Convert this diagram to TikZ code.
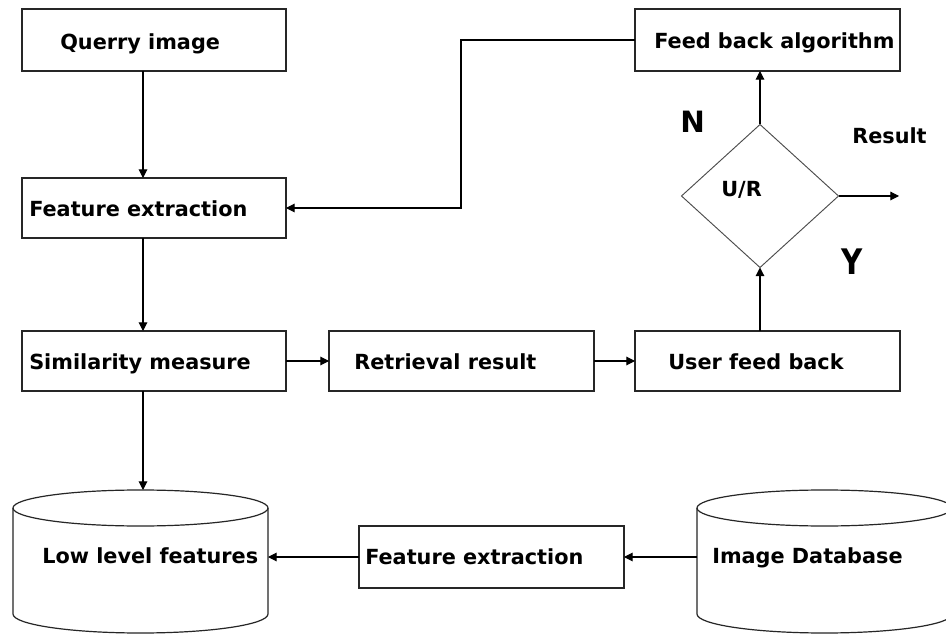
\documentclass[tikz,border=0pt]{standalone}
\usepackage{fontspec}
\setmainfont{DejaVu Sans}
\usetikzlibrary{shapes.geometric,fit,arrows.meta}
\begin{document}
\begin{tikzpicture}[x=0.75pt,y=-0.75pt,
  boxst/.style={draw=black!85,line width=0.9pt,inner sep=0pt,outer sep=0pt},
  lbl/.style={anchor=base west,inner sep=0pt,font=\fontsize{15.6pt}{18pt}\selectfont\bfseries},
  arr/.style={draw=black,line width=0.8pt,-{Triangle[length=6.5pt,width=6.5pt]}},
  cyl/.style={draw=black!85,line width=0.9pt}]
\clip (0,0) rectangle (946,634);
\fill[white] (0,0) rectangle (946,634);

% boxes
\node[boxst,fit={(22,9)(286,71)}] (qi) {};
\node[boxst,fit={(22,178)(286,238)}] (fe) {};
\node[boxst,fit={(22,331)(286,391)}] (sm) {};
\node[boxst,fit={(329,331)(594,391)}] (rr) {};
\node[boxst,fit={(635,331)(900,391)}] (uf) {};
\node[boxst,fit={(635,9)(900,71)}] (fb) {};
\node[boxst,fit={(359,526)(624,588)}] (fe2) {};
\node[draw=black!70,line width=0.7pt,diamond,inner sep=0pt,outer sep=0pt,
  minimum width={157*0.75pt},minimum height={143*0.75pt}] (d) at (760,196) {};

% cylinders
\draw[cyl] (140.5,508) ellipse [x radius=127.5,y radius=18];
\draw[cyl] (13,508) -- (13,614) arc[start angle=180,end angle=0,x radius=127.5,y radius=19] -- (268,508);
\node[inner sep=0pt,outer sep=0pt,fit={(13,490)(268,633)}] (ll) {};
\draw[cyl] (824.5,508) ellipse [x radius=127.5,y radius=18];
\draw[cyl] (697,508) -- (697,614) arc[start angle=180,end angle=0,x radius=127.5,y radius=19] -- (952,508);
\node[inner sep=0pt,outer sep=0pt,fit={(697,490)(952,633)}] (db) {};

% labels
\node[lbl] (tqi) at (60,50) {Querry image};
\node[lbl] (tfe) at (29,217) {Feature extraction};
\node[lbl] (tsm) at (29,370) {Similarity measure};
\node[lbl] (trr) at (354,370) {Retrieval result};
\node[lbl] (tuf) at (668,370) {User feed back};
\node[lbl] (tfb) at (654,49) {Feed back algorithm};
\node[lbl] (tll) at (42,563) {Low level features};
\node[lbl] (tfe2) at (365,564) {Feature extraction};
\node[lbl] (tdb) at (712,563) {Image Database};
\node[lbl] (tur) at (721,197) {U/R};
\node[lbl] (tres) at (852,144) {Result};
\node[anchor=base west,inner sep=0pt,font=\fontsize{22pt}{26pt}\selectfont\bfseries] (tn) at (680,133) {N};
\node[anchor=base west,inner sep=0pt,yscale=1.2,font=\fontsize{22pt}{26pt}\selectfont\bfseries] (ty) at (841,275) {Y};

% connectors
\coordinate (ax) at (143,0);
\coordinate (turn) at (461,0);
\coordinate (resend) at (899,196);
\draw[arr] (qi.south -| ax) -- (fe.north -| ax);
\draw[arr] (fe.south -| ax) -- (sm.north -| ax);
\draw[arr] (sm.south -| ax) -- (ll.north -| ax);
\draw[arr] (sm.east) -- (rr.west);
\draw[arr] (rr.east) -- (uf.west);
\draw[arr] (d.south |- uf.north) -- (d.south);
\draw[arr] (d.north) -- (d.north |- fb.south);
\draw[arr] (d.east) -- (resend);
\draw[arr] (fb.west) -- (fb.west -| turn) |- (fe.east);
\draw[arr] (fe2.east -| db.west) -- (fe2.east);
\draw[arr] (fe2.west) -- (fe2.west -| ll.east);
\end{tikzpicture}
\end{document}
